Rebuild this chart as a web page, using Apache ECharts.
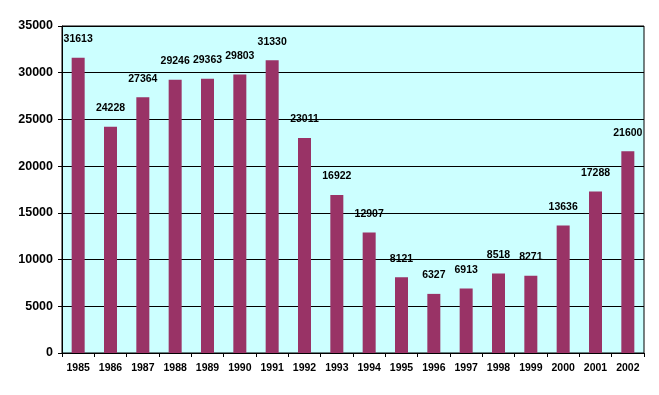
<!DOCTYPE html>
<html><head><meta charset="utf-8">
<script src="https://cdn.jsdelivr.net/npm/echarts@6/dist/echarts.min.js"></script>
<style>html,body{margin:0;padding:0;background:#fff}#c{width:659px;height:395px}</style>
</head><body><div id="c"></div>
<script>
const years = ['1985','1986','1987','1988','1989','1990','1991','1992','1993','1994','1995','1996','1997','1998','1999','2000','2001','2002'];
const values = [31613,24228,27364,29246,29363,29803,31330,23011,16922,12907,8121,6327,6913,8518,8271,13636,17288,21600];
const yTicks = [0,5000,10000,15000,20000,25000,30000,35000];

const chart = echarts.init(document.getElementById('c'), null, {renderer:'canvas'});
chart.setOption({
  animation:false,
  grid:{left:62,right:15,top:26,bottom:42,show:true,backgroundColor:'#CCFFFF',borderColor:'#000',borderWidth:1},
  xAxis:{type:'category',data:years,
    axisLine:{lineStyle:{color:'#000',width:1}},
    axisTick:{show:true,length:4,lineStyle:{color:'#000'}},
    axisLabel:{color:'#000',fontFamily:'Liberation Sans',fontWeight:'bold',fontSize:10.5,margin:10,interval:0}},
  yAxis:{type:'value',min:yTicks[0],max:yTicks[yTicks.length-1],interval:5000,
    axisLine:{show:true,lineStyle:{color:'#000',width:1}},
    axisTick:{show:true,length:4,lineStyle:{color:'#000'}},
    splitLine:{show:true,lineStyle:{color:'#000',width:1}},
    axisLabel:{color:'#000',fontFamily:'Liberation Sans',fontWeight:'bold',fontSize:12.5,margin:9,
      formatter:function(v){return String(v);}}},
  series:[{type:'bar',data:values,barWidth:13,
    itemStyle:{color:'#993366'},
    label:{show:true,position:'top',distance:13,color:'#000',fontFamily:'Liberation Sans',fontWeight:'bold',fontSize:10.5}}]
});
</script></body></html>
